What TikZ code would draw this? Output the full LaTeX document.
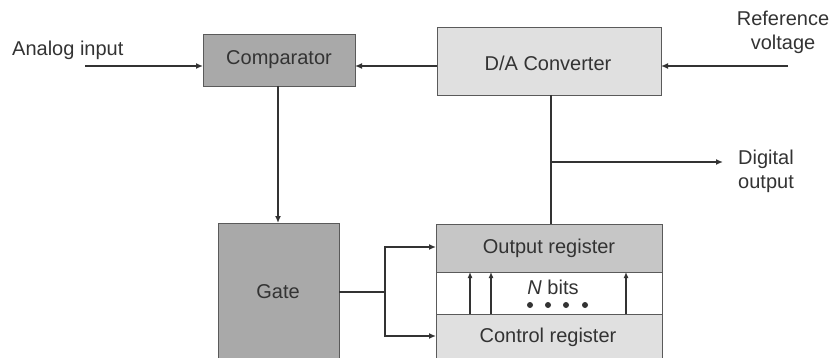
\documentclass[tikz,border=0pt]{standalone}
\usepackage{fontspec}
\setmainfont{Liberation Sans}
\usetikzlibrary{arrows.meta,calc}
\definecolor{txt}{HTML}{333333}
\definecolor{ln}{HTML}{333333}
\definecolor{bord}{HTML}{5a5a5a}
\definecolor{dark}{HTML}{a9a9a9}
\definecolor{mid}{HTML}{c6c6c6}
\definecolor{light}{HTML}{e0e0e0}
\begin{document}
\begin{tikzpicture}[x=1pt,y=-1pt,
  every node/.style={text=txt,font=\fontsize{20}{24}\selectfont,inner sep=0pt},
  blk/.style={draw=bord,line width=1.3pt,anchor=north west},
  wire/.style={draw=ln,line width=1.4pt},
  arr/.style={wire,-{Latex[length=7pt,width=6pt]}},
  lbl/.style={align=center}]
\useasboundingbox (0,0) rectangle (832,358);
\clip (0,0) rectangle (832,358);
% blocks
\node[blk,fill=dark,minimum width=152pt,minimum height=52pt] (comp) at (203,34) {};
\node (comptxt) at (279,60) {Comparator};
\node[blk,fill=light,minimum width=224pt,minimum height=68pt] (dac) at (437,27) {};
\node (dactxt) at (548,63) {D/A Converter};
\node[blk,fill=dark,minimum width=121pt,minimum height=160pt] (gate) at (218,223) {};
\node (gatetxt) at (278,292) {Gate};
\node[blk,fill=mid,minimum width=226pt,minimum height=48pt] (outreg) at (436,224) {};
\node (outtxt) at (549,248) {Output register};
\node[blk,fill=white,minimum width=226pt,minimum height=42pt] (bits) at (436,272) {};
\node[blk,fill=light,minimum width=226pt,minimum height=60pt] (ctrl) at (436,314) {};
\node (ctrltxt) at (548,337) {Control register};
\node (nbits) at (553,287) {\textit{N} bits};
\foreach \i/\x in {1/530,2/548,3/566,4/585}
  \fill[ln] (\x,305) circle (3pt) coordinate (dot\i);
% labels
\node[anchor=west] (ain) at (12,50) {Analog input};
\node[lbl] (vref) at (783,32) {Reference\\voltage};
\node[anchor=west,align=left] (dout) at (738,171) {Digital\\output};
% connector coordinates
\coordinate (ainS) at (85,66);
\coordinate (compW) at (203,66);
\coordinate (compE) at (355,66);
\coordinate (dacW) at (437,66);
\coordinate (dacE) at (661,66);
\coordinate (vrefS) at (788,66);
\coordinate (compS) at (278,86);
\coordinate (gateN) at (278,223);
\coordinate (dacS) at (551,95);
\coordinate (outN) at (551,224);
\coordinate (tap) at (551,162);
\coordinate (doutE) at (723,162);
\coordinate (gateE) at (339,292);
\coordinate (split) at (385,292);
\coordinate (splitU) at (385,247);
\coordinate (splitD) at (385,336);
\coordinate (outW) at (436,247);
\coordinate (ctrlW) at (436,336);
% connectors
\draw[arr] (ainS) -- (compW);
\draw[arr] (dacW) -- (compE);
\draw[arr] (vrefS) -- (dacE);
\draw[arr] (compS) -- (gateN);
\draw[wire] (dacS) -- (outN);
\draw[arr] (tap) -- (doutE);
\draw[wire] (gateE) -- (split);
\draw[arr] (split) -- (splitU) -- (outW);
\draw[arr] (split) -- (splitD) -- (ctrlW);
\foreach \x in {470,491,626}
  \draw[wire,-{Latex[length=6pt,width=5pt]}] (\x,314) -- (\x,272);
\end{tikzpicture}
\end{document}
